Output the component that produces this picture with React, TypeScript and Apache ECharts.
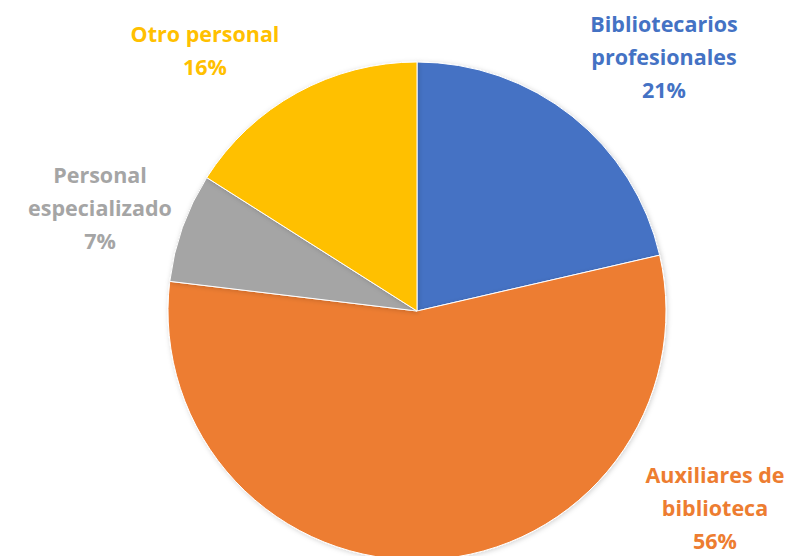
import React, { useEffect, useRef } from "react";
import * as echarts from "echarts";

const categories = [
  "Bibliotecarios\nprofesionales",
  "Auxiliares de\nbiblioteca",
  "Personal\nespecializado",
  "Otro personal",
];
const values = [21.4, 55.5, 7.1, 16.0];
const colors = ["#4472C4", "#ED7D31", "#A5A5A5", "#FFC000"];
const labelPos: [number, number][] = [
  [664, 56],
  [715, 507],
  [100, 207],
  [205, 50],
];

export default function App() {
  const ref = useRef<HTMLDivElement>(null);
  useEffect(() => {
    if (!ref.current) return;
    const chart = echarts.init(ref.current, null, { renderer: "svg" });
    chart.setOption({
      animation: false,
      backgroundColor: "#ffffff",
      series: [
        {
          type: "pie",
          center: [417, 311],
          radius: 249,
          startAngle: 90,
          clockwise: true,
          data: categories.map((name, i) => ({
            name,
            value: values[i],
            itemStyle: { color: colors[i] },
            label: { color: colors[i] },
          })),
          itemStyle: {
            borderColor: "#ffffff",
            borderWidth: 1,
            shadowBlur: 5,
            shadowColor: "rgba(0,0,0,0.18)",
            shadowOffsetX: 1,
            shadowOffsetY: 1,
          },
          label: {
            show: true,
            position: "outside",
            formatter: (p: any) => `${p.name}\n${Math.round(p.percent)}%`,
            fontFamily: "Open Sans",
            fontWeight: "bold",
            fontSize: 21.5,
            lineHeight: 33,
            align: "center",
            overflow: "none",
            width: 300,
          },
          labelLine: { show: false },
          labelLayout: (params: any) => {
            const p = labelPos[params.dataIndex];
            return { x: p[0], y: p[1], align: "center", verticalAlign: "middle" };
          },
          emphasis: { disabled: true },
        },
      ],
    });
    return () => chart.dispose();
  }, []);
  return (
    <div
      ref={ref}
      style={{ position: "fixed", left: 0, top: 0, width: 791, height: 556 }}
    />
  );
}
